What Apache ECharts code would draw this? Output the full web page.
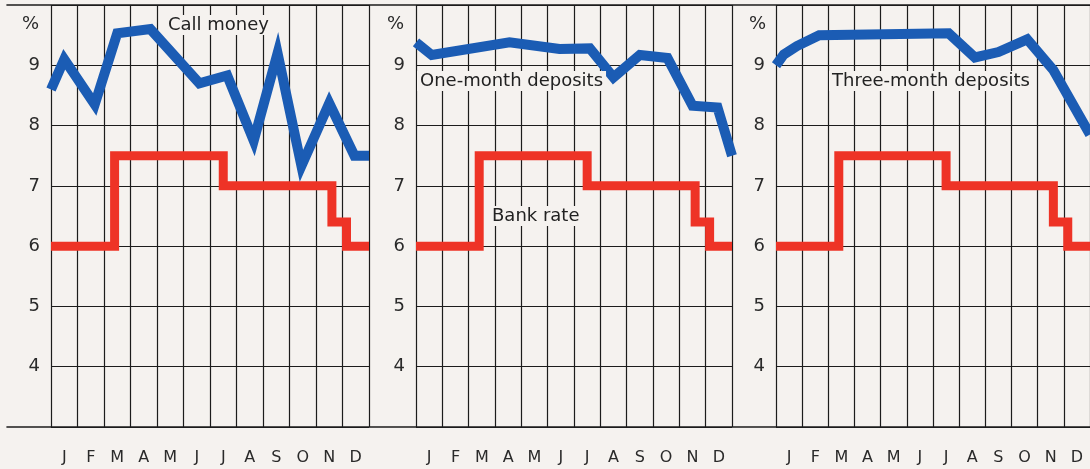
<!DOCTYPE html>
<html>
<head>
<meta charset="utf-8">
<script src="https://cdn.jsdelivr.net/npm/echarts@6/dist/echarts.min.js"></script>
<style>
  html, body { margin: 0; padding: 0; background: #f5f2ef; }
  #chart { width: 1090px; height: 469px; }
</style>
</head>
<body>
<div id="chart"></div>
<script>
// Month labels (category axis)
const months = ['J','F','M','A','M','J','J','A','S','O','N','D'];
// Y axis ticks shown
const yTickLabels = [4, 5, 6, 7, 8, 9];
// Panel titles
const panelNames = ['Call money', 'One-month deposits', 'Three-month deposits'];
// Bank rate: [month position, %] step changes
const bankRate = [[0, 6], [2.4, 7.5], [6.5, 7], [10.6, 6.4], [11.15, 6], [12, 6]];
// Call money: [month position, %]
const callMoney = [[0, 8.6], [0.5, 9.1], [1.65, 8.35], [2.5, 9.53], [3.75, 9.6], [5.6, 8.7], [6.65, 8.83], [7.65, 7.75], [8.55, 9.2], [9.45, 7.33], [10.5, 8.37], [11.45, 7.5], [12, 7.5]];
// One-month deposits
const oneMonth = [[0, 9.38], [0.6, 9.17], [3.55, 9.38], [5.45, 9.27], [6.6, 9.28], [7.5, 8.8], [8.5, 9.17], [9.55, 9.12], [10.5, 8.33], [11.45, 8.3], [12, 7.5]];
// Three-month deposits
const threeMonth = [[0, 9.0], [0.3, 9.18], [0.8, 9.32], [1.65, 9.5], [6.6, 9.53], [7.6, 9.13], [8.5, 9.22], [9.6, 9.43], [10.6, 8.92], [12, 7.85]];

const BG = '#f5f2ef';
const GRID = '#1c1c1c';
const BLUE = '#1b5cb4';
const RED = '#ee3326';
const FONT = 'DejaVu Sans';

const chart = echarts.init(document.getElementById('chart'), null, { renderer: 'canvas' });

const panels = [
  { left: 51, width: 318, data: callMoney },
  { left: 416, width: 316, data: oneMonth },
  { left: 776, width: 316, data: threeMonth }
];

const grid = [];
const xAxis = [];
const yAxis = [];
const series = [];

panels.forEach((p, i) => {
  grid.push({ left: p.left, top: 5, width: p.width, height: 422 });
  // value axis for data and vertical grid lines
  xAxis.push({
    type: 'value', gridIndex: i, min: 0, max: 12, interval: 1, position: 'top',
    axisLine: { show: false }, axisTick: { show: false }, axisLabel: { show: false },
    splitLine: { show: true, lineStyle: { color: GRID, width: 1.2 } }
  });
  // category axis for month labels
  xAxis.push({
    type: 'category', gridIndex: i, data: months, boundaryGap: true, position: 'bottom',
    axisLine: { show: false }, axisTick: { show: false }, splitLine: { show: false },
    axisLabel: { margin: 23, fontSize: 16, color: '#2a2a2a', fontFamily: FONT }
  });
  yAxis.push({
    type: 'value', gridIndex: i, min: 3, max: 10, interval: 1,
    axisLine: { show: false }, axisTick: { show: false },
    axisLabel: {
      margin: 11, fontSize: 18, color: '#2a2a2a', fontFamily: FONT,
      formatter: v => (yTickLabels.indexOf(v) >= 0 ? String(v) : '')
    },
    splitLine: { show: true, lineStyle: { color: GRID, width: 1.2 } }
  });
  series.push({
    type: 'line', xAxisIndex: i * 2, yAxisIndex: i, data: bankRate, step: 'end',
    symbol: 'none', silent: true, z: 3,
    lineStyle: { color: RED, width: 9, cap: 'butt', join: 'miter' }
  });
  series.push({
    type: 'line', xAxisIndex: i * 2, yAxisIndex: i, data: p.data,
    symbol: 'none', silent: true, z: 4,
    lineStyle: { color: BLUE, width: 10, cap: 'butt', join: 'miter' }
  });
});

// full-width top and bottom rules
grid.push({ left: 7, top: 5, width: 1090, height: 422 });
xAxis.push({
  type: 'value', gridIndex: 3, min: 0, max: 1, position: 'bottom',
  axisLine: { show: true, onZero: false, lineStyle: { color: GRID, width: 1.6 } },
  axisTick: { show: false }, axisLabel: { show: false }, splitLine: { show: false }
});
xAxis.push({
  type: 'value', gridIndex: 3, min: 0, max: 1, position: 'top',
  axisLine: { show: true, onZero: false, lineStyle: { color: GRID, width: 1.6 } },
  axisTick: { show: false }, axisLabel: { show: false }, splitLine: { show: false }
});
yAxis.push({ type: 'value', gridIndex: 3, min: 0, max: 1, show: false });

const labelStyle = { fontSize: 18, fontWeight: 'normal', color: '#222', fontFamily: FONT };
const pctStyle = { fontSize: 18, fontWeight: 'normal', color: '#2a2a2a', fontFamily: FONT };

const title = [
  { text: panelNames[0], left: 165, top: 15, padding: [1, 3], backgroundColor: BG, textStyle: labelStyle },
  { text: panelNames[1], left: 417, top: 71, padding: [1, 3], backgroundColor: BG, textStyle: labelStyle },
  { text: 'Bank rate', left: 489, top: 206, padding: [1, 3], backgroundColor: BG, textStyle: labelStyle },
  { text: panelNames[2], left: 829, top: 71, padding: [1, 3], backgroundColor: BG, textStyle: labelStyle },
  { text: '%', left: 22, top: 15, padding: 0, textStyle: pctStyle },
  { text: '%', left: 387, top: 15, padding: 0, textStyle: pctStyle },
  { text: '%', left: 749, top: 15, padding: 0, textStyle: pctStyle }
];

chart.setOption({
  backgroundColor: BG,
  animation: false,
  title, grid, xAxis, yAxis, series
});
</script>
</body>
</html>
